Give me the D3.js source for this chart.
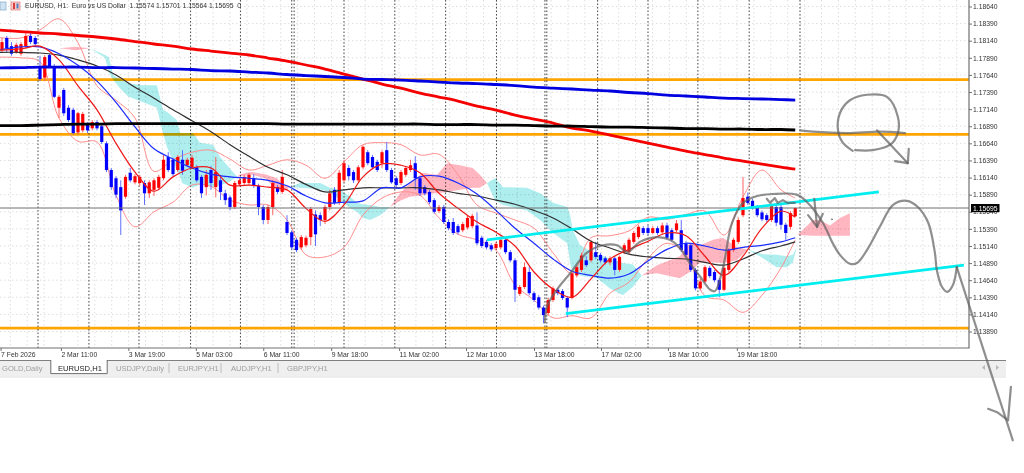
<!DOCTYPE html>
<html><head><meta charset="utf-8">
<script src="https://cdnjs.cloudflare.com/ajax/libs/d3/7.8.5/d3.min.js"></script>
<style>
html,body{margin:0;padding:0;background:#fff;overflow:hidden}
svg{display:block;filter:blur(0.3px)}
text{font-family:"Liberation Sans",Arial,sans-serif;white-space:pre}
</style></head><body><svg id="c" width="1024" height="473"></svg>
<script>
// ---- candles (3-hour sampled EURUSD) ----
const opens=[1.1800,1.1818,1.1806,1.1797,1.1795,1.1806,1.1821,1.1818,1.1777,1.1760,
1.1793,1.1777,1.1716,1.1742,1.1716,1.1713,1.1680,1.1683,1.1692,1.1686,
1.1695,1.1689,1.1664,1.1625,1.1613,1.1600,1.1586,1.1621,1.1607,1.1606,
1.1606,1.1591,1.1596,1.1599,1.1613,1.1644,1.1640,1.1625,1.1640,1.1632,
1.1629,1.1629,1.1615,1.1600,1.1625,1.1600,1.1610,1.1591,1.1585,1.1571,
1.1604,1.1606,1.1606,1.1613,1.1602,1.1571,1.1552,1.1571,1.1600,1.1593,
1.1549,1.1534,1.1523,1.1512,1.1515,1.1527,1.1560,1.1559,1.1552,1.1571,
1.1596,1.1577,1.1610,1.1628,1.1622,1.1610,1.1629,1.1651,1.1644,1.1637,
1.1635,1.1654,1.1625,1.1613,1.1606,1.1618,1.1625,1.1635,1.1613,1.1600,
1.1593,1.1581,1.1565,1.1571,1.1549,1.1549,1.1543,1.1537,1.1541,1.1543,
1.1544,1.1526,1.1520,1.1515,1.1511,1.1512,1.1523,1.1505,1.1493,1.1444,
1.1454,1.1476,1.1445,1.1439,1.1424,1.1416,1.1435,1.1450,1.1448,1.1438,
1.1438,1.1471,1.1479,1.1493,1.1493,1.1505,1.1501,1.1496,1.1490,1.1496,
1.1479,1.1505,1.1505,1.1520,1.1527,1.1540,1.1540,1.1533,1.1540,1.1534,
1.1544,1.1537,1.1537,1.1537,1.1518,1.1515,1.1479,1.1452,1.1462,1.1482,
1.1476,1.1464,1.1450,1.1479,1.1508,1.1520,1.1559,1.1586,1.1580,1.1571,
1.1563,1.1559,1.1552,1.1571,1.1571,1.1545,1.1542,1.15574];
const highs=[1.1818,1.1821,1.1812,1.1811,1.1812,1.1825,1.1825,1.1821,1.1792,1.1793,
1.1795,1.1780,1.1735,1.1745,1.1720,1.1716,1.1710,1.1710,1.1695,1.1698,
1.1698,1.1692,1.1667,1.1628,1.1616,1.1610,1.1618,1.1628,1.1619,1.1618,
1.1610,1.1610,1.1613,1.1618,1.1647,1.1651,1.1643,1.1647,1.1654,1.1643,
1.1647,1.1632,1.1618,1.1625,1.1631,1.1644,1.1618,1.1596,1.1588,1.1609,
1.1613,1.1618,1.1621,1.1619,1.1605,1.1574,1.1574,1.1610,1.1603,1.1625,
1.1559,1.1537,1.1526,1.1530,1.1529,1.1571,1.1566,1.1563,1.1574,1.1596,
1.1600,1.1625,1.1640,1.1632,1.1625,1.1632,1.1661,1.1654,1.1647,1.1640,
1.1654,1.1666,1.1628,1.1616,1.1625,1.1631,1.1640,1.1645,1.1616,1.1603,
1.1596,1.1584,1.1574,1.1574,1.1553,1.1555,1.1546,1.1549,1.1558,1.1561,
1.1563,1.1529,1.1523,1.1518,1.1520,1.1526,1.1526,1.1508,1.1496,1.1457,
1.1490,1.1484,1.1448,1.1442,1.1427,1.1438,1.1455,1.1452,1.1451,1.1441,
1.1477,1.1486,1.1504,1.1499,1.1523,1.1520,1.1504,1.1499,1.1499,1.1499,
1.1500,1.1518,1.1526,1.1536,1.1545,1.1543,1.1544,1.1543,1.1543,1.1548,
1.1548,1.1540,1.1552,1.1552,1.1521,1.1518,1.1482,1.1466,1.1486,1.1485,
1.1479,1.1467,1.1485,1.1511,1.1526,1.1556,1.1615,1.1592,1.1583,1.1574,
1.1566,1.1562,1.1576,1.1574,1.1574,1.1548,1.1565,1.15701];
const lows=[1.1797,1.1797,1.1792,1.1795,1.1792,1.1803,1.1809,1.1806,1.1755,1.1755,
1.1774,1.1730,1.1701,1.1704,1.1695,1.1677,1.1677,1.1680,1.1679,1.1683,
1.1683,1.1663,1.1622,1.1596,1.1584,1.1530,1.1583,1.1607,1.1604,1.1602,
1.1574,1.1584,1.1587,1.1596,1.1610,1.1622,1.1616,1.1622,1.1618,1.1630,
1.1626,1.1607,1.1584,1.1588,1.1596,1.1585,1.1581,1.1574,1.1566,1.1568,
1.1602,1.1603,1.1603,1.1599,1.1559,1.1546,1.1546,1.1559,1.1590,1.1590,
1.1530,1.1509,1.1505,1.1509,1.1512,1.1515,1.1514,1.1543,1.1546,1.1566,
1.1574,1.1574,1.1607,1.1610,1.1606,1.1607,1.1626,1.1632,1.1626,1.1622,
1.1628,1.1622,1.1605,1.1600,1.1603,1.1615,1.1622,1.1596,1.1587,1.1588,
1.1575,1.1561,1.1562,1.1546,1.1537,1.1530,1.1531,1.1534,1.1538,1.1540,
1.1515,1.1511,1.1509,1.1506,1.1508,1.1509,1.1502,1.1490,1.1432,1.1441,
1.1451,1.1442,1.1432,1.1421,1.1401,1.1413,1.1432,1.1442,1.1435,1.1410,
1.1436,1.1468,1.1476,1.1483,1.1490,1.1495,1.1490,1.1487,1.1486,1.1471,
1.1476,1.1502,1.1502,1.1517,1.1524,1.1530,1.1530,1.1531,1.1530,1.1531,
1.1524,1.1520,1.1534,1.1505,1.1498,1.1476,1.1449,1.1449,1.1460,1.1467,
1.1461,1.1439,1.1448,1.1476,1.1505,1.1517,1.1556,1.1574,1.1567,1.1556,
1.1550,1.1549,1.1549,1.1543,1.1538,1.1523,1.1538,1.15564];
const closes=[1.1812,1.1803,1.1795,1.1808,1.1809,1.1821,1.1812,1.1809,1.1758,1.1790,
1.1777,1.1732,1.1732,1.1708,1.1698,1.1679,1.1708,1.1707,1.1683,1.1695,
1.1686,1.1666,1.1625,1.1600,1.1589,1.1566,1.1615,1.1610,1.1616,1.1615,
1.1591,1.1607,1.1610,1.1615,1.1640,1.1625,1.1619,1.1644,1.1624,1.1640,
1.1643,1.1610,1.1591,1.1618,1.1606,1.1622,1.1593,1.1581,1.1571,1.1606,
1.1610,1.1615,1.1618,1.1602,1.1571,1.1552,1.1571,1.1606,1.1593,1.1615,
1.1533,1.1512,1.1508,1.1527,1.1526,1.1568,1.1531,1.1552,1.1571,1.1591,
1.1577,1.1621,1.1635,1.1616,1.1610,1.1629,1.1659,1.1635,1.1629,1.1625,
1.1651,1.1625,1.1607,1.1603,1.1622,1.1628,1.1632,1.1613,1.1591,1.1591,
1.1578,1.1564,1.1571,1.1549,1.1540,1.1533,1.1534,1.1546,1.1555,1.1558,
1.1518,1.1514,1.1512,1.1509,1.1517,1.1523,1.1505,1.1493,1.1450,1.1454,
1.1483,1.1445,1.1435,1.1424,1.1413,1.1435,1.1452,1.1445,1.1438,1.1424,
1.1474,1.1483,1.1500,1.1486,1.1520,1.1498,1.1493,1.1490,1.1496,1.1479,
1.1498,1.1515,1.1523,1.1533,1.1542,1.1533,1.1533,1.1540,1.1533,1.1544,
1.1526,1.1523,1.1547,1.1508,1.1501,1.1479,1.1452,1.1462,1.1483,1.1470,
1.1464,1.1450,1.1482,1.1508,1.1523,1.1552,1.1584,1.1577,1.1570,1.1559,
1.1553,1.1552,1.1574,1.1548,1.1545,1.1533,1.1562,1.15695];

// ---- indicators, sampled every 4 bars ----
const lineBars=[-1,4,8,12,16,20,24,28,32,36,40,44,48,52,56,60,64,68,72,76,80,84,88,92,96,100,104,108,112,116,120,124,128,132,136,140,144,148,152,156,160,164,167];
const ma200=[1.18296,1.18274,1.18253,1.18238,1.18216,1.18194,1.18165,1.18128,1.18092,1.18062,1.18019,1.17989,1.17960,1.17931,1.17887,1.17843,1.17785,1.17726,1.17653,1.17580,1.17507,1.17448,1.17375,1.17317,1.17258,1.17185,1.17127,1.17054,1.16995,1.16937,1.16864,1.16820,1.16761,1.16703,1.16644,1.16586,1.16527,1.16476,1.16425,1.16381,1.16337,1.16293,1.16264];
const ma200Blue=[1.17741,1.17748,1.17755,1.17755,1.17755,1.17748,1.17748,1.17741,1.17734,1.17726,1.17719,1.17704,1.17697,1.17682,1.17668,1.17646,1.17631,1.17617,1.17602,1.17580,1.17573,1.17565,1.17551,1.17536,1.17522,1.17514,1.17500,1.17485,1.17463,1.17448,1.17434,1.17419,1.17405,1.17383,1.17368,1.17346,1.17332,1.17317,1.17302,1.17295,1.17288,1.17280,1.17273];
const ma200Black=[1.16900,1.16900,1.16907,1.16915,1.16922,1.16922,1.16929,1.16929,1.16929,1.16929,1.16929,1.16929,1.16929,1.16929,1.16929,1.16922,1.16922,1.16922,1.16922,1.16922,1.16922,1.16922,1.16922,1.16915,1.16915,1.16915,1.16907,1.16907,1.16900,1.16893,1.16893,1.16885,1.16878,1.16878,1.16871,1.16864,1.16856,1.16856,1.16849,1.16849,1.16842,1.16842,1.16835];
const maRed=[1.1800,1.1802,1.1806,1.1786,1.1748,1.1713,1.1664,1.1622,1.1594,1.1615,1.1628,1.1628,1.1603,1.1603,1.1600,1.1596,1.1569,1.1550,1.1574,1.1615,1.1634,1.1632,1.1621,1.1591,1.1569,1.1549,1.1534,1.1514,1.1476,1.1451,1.1439,1.1466,1.1495,1.1509,1.1521,1.1533,1.1529,1.1499,1.1471,1.1499,1.1540,1.1565,1.1556];
const maBlue=[1.1800,1.1805,1.1805,1.1795,1.1778,1.1755,1.1724,1.1688,1.1656,1.1641,1.1628,1.1619,1.1615,1.1613,1.1610,1.1602,1.1587,1.1577,1.1578,1.1580,1.1599,1.1599,1.1615,1.1616,1.1606,1.1590,1.1566,1.1540,1.1518,1.1495,1.1477,1.1471,1.1467,1.1473,1.1492,1.1509,1.1518,1.1514,1.1508,1.1512,1.1515,1.1520,1.1526];
const maBlack=[1.1797,1.1797,1.1796,1.1793,1.1786,1.1777,1.1764,1.1746,1.1730,1.1713,1.1697,1.1681,1.1662,1.1645,1.1629,1.1618,1.1604,1.1593,1.1596,1.1599,1.1599,1.1599,1.1599,1.1596,1.1591,1.1587,1.1581,1.1575,1.1566,1.1555,1.1539,1.1521,1.1511,1.1502,1.1498,1.1496,1.1495,1.1490,1.1486,1.1495,1.1507,1.1514,1.1520];
const bbUpper=[1.1819,1.1818,1.1830,1.1846,1.1811,1.1748,1.1727,1.1701,1.1623,1.1640,1.1651,1.1654,1.1641,1.1625,1.1632,1.1640,1.1632,1.1613,1.1637,1.1662,1.1665,1.1662,1.1647,1.1648,1.1618,1.1574,1.1562,1.1552,1.1540,1.1504,1.1474,1.1526,1.1529,1.1536,1.1556,1.1553,1.1560,1.1565,1.1530,1.1586,1.1625,1.1596,1.1584];
const bbLower=[1.1790,1.1789,1.1783,1.1701,1.1667,1.1666,1.1588,1.1542,1.1564,1.1578,1.1603,1.1601,1.1581,1.1574,1.1574,1.1552,1.1501,1.1498,1.1512,1.1559,1.1584,1.1593,1.1588,1.1555,1.1531,1.1523,1.1508,1.1457,1.1435,1.1409,1.1412,1.1409,1.1445,1.1461,1.1496,1.1518,1.1501,1.1441,1.1435,1.1417,1.1442,1.1482,1.1523];

// ---- ichimoku cloud ----
const cloudBars=[12.2,15.4,18.5,21.7,22.5,23.4,24.8,26.5,29.7,32.6,33.9,34.7,36.8,37.5,37.9,40.2,41.7,44.4,45.9,47.4,49.5,50.1,52.6,55.4,57.9,59.2,60.6,62.7,67,69,71.2,73.3,74.7,76,77.5,79.6,81.7,83.8,85.9,88.6,90.7,91.6,93.7,96.4,99.1,100.6,102.1,103.8,105.5,110.5,113.3,116,119,119.6,120.2,121.7,125.3,128,130.7,132.8,134.7,136.4,137.9,142.7,144.8,147,149.7,151.8,154.7,157,160.2,163.1,165.2,166.5,167.3,167.5,170.7,172.2,174.3,176.4,178.5];
const spanA=[1.1803,1.1805,1.1803,1.1789,1.1768,1.1757,1.1745,1.1733,1.1724,1.1716,1.1679,1.1659,1.1625,1.1616,1.1606,1.1599,1.1604,1.1600,1.1603,1.1606,1.1615,1.1619,1.1622,1.1619,1.1613,1.1603,1.1600,1.1599,1.1597,1.1593,1.1581,1.1569,1.1564,1.1555,1.1552,1.1559,1.1571,1.1591,1.1606,1.1621,1.1619,1.1618,1.1635,1.1632,1.1628,1.1618,1.1606,1.1581,1.1574,1.1566,1.1552,1.1533,1.1518,1.1489,1.1474,1.1471,1.1467,1.1452,1.1442,1.1454,1.1471,1.1479,1.1486,1.1499,1.1518,1.1515,1.1523,1.1526,1.1512,1.1509,1.1496,1.1483,1.1483,1.1490,1.1512,1.1530,1.1552,1.1552,1.1544,1.1555,1.1562];
const spanB=[1.1803,1.1800,1.1803,1.1793,1.1790,1.1764,1.1758,1.1752,1.1749,1.1749,1.1713,1.1710,1.1698,1.1679,1.1679,1.1679,1.1665,1.1662,1.1644,1.1632,1.1615,1.1616,1.1618,1.1613,1.1596,1.1593,1.1600,1.1606,1.1606,1.1599,1.1596,1.1586,1.1577,1.1575,1.1574,1.1571,1.1571,1.1580,1.1586,1.1588,1.1591,1.1591,1.1593,1.1596,1.1599,1.1599,1.1606,1.1613,1.1600,1.1599,1.1591,1.1577,1.1571,1.1559,1.1537,1.1515,1.1501,1.1496,1.1489,1.1487,1.1471,1.1473,1.1474,1.1467,1.1476,1.1490,1.1490,1.1489,1.1493,1.1509,1.1502,1.1501,1.1499,1.1501,1.1512,1.1530,1.1529,1.1529,1.1529,1.1529,1.1529];

// ---- levels, axes, tabs ----
const orangeLevels=[1.1757,1.1677,1.1394];
const lastPrice=1.15695;
const priceTicks=[1.18640,1.18390,1.18140,1.17890,1.17640,1.17390,1.17140,1.16890,1.16640,1.16390,1.16140,1.15890,1.15640,1.15390,1.15140,1.14890,1.14640,1.14390,1.14140,1.13890];
const timeLabels=["7 Feb 2026","2 Mar 11:00","3 Mar 19:00","5 Mar 03:00","6 Mar 11:00","9 Mar 18:00","11 Mar 02:00","12 Mar 10:00","13 Mar 18:00","17 Mar 02:00","18 Mar 10:00","19 Mar 18:00"];
const timeBars=[-0.3,12.4,26.6,40.8,55,69.3,83.6,97.7,112,126.1,140.2,154.7];
const separators=[7.58,18.3,28.84,39.7,50.2,61,61.5,72,82.7,93.4,104.1,114.3,114.7,125.4,136,146.5,157.3,168];
const tabNames=["GOLD,Daily","EURUSD,H1","USDJPY,Daily","EURJPY,H1","AUDJPY,H1","GBPJPY,H1"];
const tabStarts=[2,58,116,178,231,287];
const tabSeps=[169,221,278];
const headerText="EURUSD, H1:  Euro vs US Dollar  1.15574 1.15701 1.15564 1.15695  0";

// ---- trend lines and hand-drawn ink, as [bar, price] ----
const trendLines=[[[102.1,1.1523],[184.6,1.1593]],[[118.7,1.1415],[202.5,1.1486]]];
const inkSmooth=[
 [[114.3,1.1403],[114.7,1.1425],[116.8,1.1450],[119.6,1.1474],[123.1,1.1504],[126.5,1.1515],[129.5,1.1515],[131.6,1.1505],[134.3,1.1520],[137.9,1.1527],[140.6,1.1523],[142.7,1.1511],[144.8,1.1489],[147,1.1469],[149.1,1.1450],[150.1,1.1448],[151.8,1.1483],[153.7,1.1548],[156,1.1577],[159,1.1587],[162.3,1.1590],[167.3,1.1589],[169.5,1.1578],[172.8,1.1548],[174.9,1.1518],[176.4,1.1501],[178.5,1.1488],[180,1.1489],[182.1,1.1508],[184.8,1.1542],[187.6,1.1574],[190.5,1.1580],[192.8,1.1571],[195,1.1548],[196.4,1.1504],[196.8,1.1479],[197.9,1.1454],[199,1.1447],[200.2,1.1457],[201,1.1483]],
 [[179.6,1.1654],[183.3,1.1654],[187,1.1662],[188.6,1.1679],[188.6,1.1703],[186.3,1.1732],[182.1,1.1735],[178.5,1.1727],[176.4,1.1708],[176,1.1683],[177,1.1665],[179.1,1.1653]],
 [[168,1.1683],[170.7,1.1681],[177.9,1.1679],[184.8,1.1681],[190.1,1.1679]]
];
const inkStraight=[
 [[201,1.1483],[212.8,1.1230]],
 [[207.6,1.1276],[209.5,1.1271],[211.8,1.1259],[212.4,1.1308]],
 [[184.2,1.1683],[190.7,1.1635]],
 [[188,1.1638],[190.7,1.1635],[190.9,1.1656]],
 [[171,1.1583],[171.6,1.1542]],
 [[169.7,1.1559],[171.6,1.1542],[172.8,1.1561]],
 [[161,1.1583],[161.7,1.1577],[162.7,1.1584],[163.3,1.1577],[164.4,1.1581],[165.4,1.1577],[166.9,1.1577]]
];
const inkDots=[[174.7,1.1553]];

// ---- scales ----
const W=1024,plotR=969,plotB=348,fs=6.8;
const x=d3.scaleLinear().domain([0,167]).range([2,795.25]);
const y=d3.scaleLinear().domain([1.1864,1.1389]).range([6.5,331.5]);
const svg=d3.select("#c");
const defs=svg.append("defs");
defs.append("clipPath").attr("id","plot").append("rect").attr("width",plotR).attr("height",plotB);

svg.append("rect").attr("width",W).attr("height",473).attr("fill","#fff");
const plot=svg.append("g").attr("clip-path","url(#plot)");

// grid
const gridColor="#dedede";
plot.append("g").selectAll("line").data(priceTicks).join("line")
 .attr("x1",0).attr("x2",plotR).attr("y1",d=>y(d)).attr("y2",d=>y(d))
 .attr("stroke",gridColor).attr("stroke-width",1).attr("stroke-dasharray","1.5 2.5");
plot.append("g").selectAll("line").data(d3.range(956.7,0,-16.9)).join("line")
 .attr("x1",d=>d).attr("x2",d=>d).attr("y1",0).attr("y2",plotB)
 .attr("stroke",gridColor).attr("stroke-width",1).attr("stroke-dasharray","1.5 2.5");

// orange levels
plot.append("g").selectAll("line").data(orangeLevels).join("line")
 .attr("x1",0).attr("x2",plotR).attr("y1",d=>y(d)).attr("y2",d=>y(d))
 .attr("stroke","#ffa500").attr("stroke-width",2.8);

// cloud: contiguous runs with the same sign of spanA-spanB
const runs=[];let cur=null;
for(let i=0;i<cloudBars.length-1;i++){
  const up=(spanA[i]+spanA[i+1])>(spanB[i]+spanB[i+1]);
  const flat=(spanA[i]===spanB[i]&&spanA[i+1]===spanB[i+1]);
  if(flat){cur=null;continue;}
  if(!cur||cur.up!==up){cur={up,idx:[i]};runs.push(cur);}
  cur.idx.push(i+1);
}
const cloudArea=d3.area().x(i=>x(cloudBars[i])).y0(i=>y(spanA[i])).y1(i=>y(spanB[i]));
plot.append("g").style("mix-blend-mode","multiply").selectAll("path").data(runs).join("path")
 .attr("d",r=>cloudArea(r.idx)).attr("fill",r=>r.up?"#ffb6c1":"#afeeee");

// period separators
plot.append("g").selectAll("line").data(separators).join("line")
 .attr("x1",d=>x(d)).attr("x2",d=>x(d)).attr("y1",0).attr("y2",plotB)
 .attr("stroke","#333").attr("stroke-width",0.9).attr("stroke-dasharray","1.6 1.9");

const curve=d3.line().x((d,i)=>x(lineBars[i])).y(d=>y(d)).curve(d3.curveCatmullRom.alpha(0.5));

// Bollinger bands
[bbUpper,bbLower].forEach(s=>plot.append("path").attr("d",curve(s)).attr("fill","none").attr("stroke","#ff8c8c").attr("stroke-width",1));

// candles
const idx=d3.range(closes.length);
const candles=plot.append("g");
candles.selectAll("line").data(idx).join("line")
 .attr("x1",i=>x(i)).attr("x2",i=>x(i)).attr("y1",i=>y(highs[i])).attr("y2",i=>y(lows[i]))
 .attr("stroke",i=>closes[i]>=opens[i]?"#ff5050":"#5060ff").attr("stroke-width",0.9);
candles.selectAll("rect").data(idx).join("rect")
 .attr("x",i=>x(i)-1.6).attr("width",3.2)
 .attr("y",i=>y(Math.max(opens[i],closes[i])))
 .attr("height",i=>Math.max(1,Math.abs(y(opens[i])-y(closes[i]))))
 .attr("fill",i=>closes[i]>=opens[i]?"#ff0000":"#0000ff");

// thin moving averages
[[maBlack,"#303030"],[maBlue,"#1a2cff"],[maRed,"#f01818"]].forEach(([s,c])=>
 plot.append("path").attr("d",curve(s)).attr("fill","none").attr("stroke",c).attr("stroke-width",1.2));

// last price line
plot.append("line").attr("x1",0).attr("x2",plotR).attr("y1",y(lastPrice)).attr("y2",y(lastPrice)).attr("stroke","#707070").attr("stroke-width",1);

// thick moving averages
[[ma200,"#f40000"],[ma200Blue,"#0000e0"],[ma200Black,"#000000"]].forEach(([s,c])=>
 plot.append("path").attr("d",curve(s)).attr("fill","none").attr("stroke",c).attr("stroke-width",2.8));

// header icons and text
svg.append("rect").attr("x",0).attr("y",2).attr("width",6).attr("height",8).attr("fill","#cfe3f2").attr("stroke","#7fa8c8").attr("stroke-width",.7);
svg.append("rect").attr("x",11).attr("y",2).attr("width",9).attr("height",8).attr("fill","#fcc8c8").attr("stroke","#e08080").attr("stroke-width",.7);
svg.append("rect").attr("x",13).attr("y",3).attr("width",2).attr("height",6).attr("fill","#d84040");
svg.append("rect").attr("x",16.5).attr("y",3.5).attr("width",2).attr("height",5).attr("fill","#5080c0");
svg.append("text").attr("x",25).attr("y",8).attr("font-size",fs).attr("fill","#333").text(headerText);

// axes
const frame="#707070";
const yAxis=d3.axisRight(y).tickValues(priceTicks).tickFormat(d3.format(".5f")).tickSize(3).tickPadding(1);
const yG=svg.append("g").attr("transform",`translate(${plotR},0)`).call(yAxis);
const xAxis=d3.axisBottom(x).tickValues(timeBars).tickFormat((d,i)=>timeLabels[i]).tickSize(3).tickPadding(1);
const xG=svg.append("g").attr("transform",`translate(0,${plotB})`).call(xAxis);
[yG,xG].forEach(g=>{g.select(".domain").remove();g.selectAll("line").attr("stroke",frame);
 g.selectAll("text").attr("font-size",fs).attr("fill","#333").attr("font-family",'"Liberation Sans",Arial,sans-serif');});
xG.selectAll("text").attr("text-anchor","start").attr("x",0);
svg.append("line").attr("x1",plotR).attr("x2",plotR).attr("y1",0).attr("y2",plotB).attr("stroke",frame).attr("stroke-width",1.2);
svg.append("line").attr("x1",0).attr("x2",plotR+.6).attr("y1",plotB).attr("y2",plotB).attr("stroke",frame).attr("stroke-width",1.2);

// last price tag
svg.append("rect").attr("x",971).attr("y",y(lastPrice)-4).attr("width",28.5).attr("height",8.2).attr("fill","#000");
svg.append("text").attr("x",973).attr("y",y(lastPrice)+2.6).attr("font-size",fs).attr("fill","#fff").text(d3.format(".5f")(lastPrice));

// tab strip
svg.append("rect").attr("x",0).attr("y",360.5).attr("width",1006).attr("height",16).attr("fill","#efefef");
svg.append("line").attr("x1",0).attr("x2",1006).attr("y1",360.5).attr("y2",360.5).attr("stroke","#808080");
svg.append("line").attr("x1",0).attr("x2",1006).attr("y1",377).attr("y2",377).attr("stroke","#e0e0e0");
svg.append("rect").attr("x",51).attr("y",360).attr("width",56).attr("height",13.5).attr("fill","#fff");
svg.append("path").attr("d","M50.8 360V373.6H107.2V360").attr("stroke","#707070").attr("fill","none");
svg.append("g").selectAll("line").data(tabSeps).join("line").attr("x1",d=>d).attr("x2",d=>d).attr("y1",363).attr("y2",373).attr("stroke","#bdbdbd");
svg.append("g").selectAll("text").data(tabNames).join("text")
 .attr("x",(d,i)=>tabStarts[i]).attr("y",371).attr("font-size",7.6)
 .attr("fill",d=>d==="EURUSD,H1"?"#222":"#a0a0a0").text(d=>d);
svg.append("path").attr("d","M985 365l-3 2.5 3 2.5zM996 365l3 2.5-3 2.5z").attr("fill","#b8b8b8");

// trend lines
const straight=d3.line().x(d=>x(d[0])).y(d=>y(d[1]));
svg.append("g").selectAll("path").data(trendLines).join("path").attr("d",straight)
 .attr("fill","none").attr("stroke","#00eef0").attr("stroke-width",2.8);

// hand-drawn ink
const ink=svg.append("g").attr("fill","none").attr("stroke","#606060").attr("stroke-width",2.2).attr("stroke-opacity",.7)
 .attr("stroke-linecap","round").attr("stroke-linejoin","round");
const smooth=d3.line().x(d=>x(d[0])).y(d=>y(d[1])).curve(d3.curveCatmullRom.alpha(0.5));
ink.selectAll(".s").data(inkSmooth).join("path").attr("class","s").attr("d",smooth);
ink.selectAll(".t").data(inkStraight).join("path").attr("class","t").attr("d",straight);
ink.selectAll("circle").data(inkDots).join("circle").attr("cx",d=>x(d[0])).attr("cy",d=>y(d[1])).attr("r",.5).attr("stroke-width",1);
</script></body></html>
